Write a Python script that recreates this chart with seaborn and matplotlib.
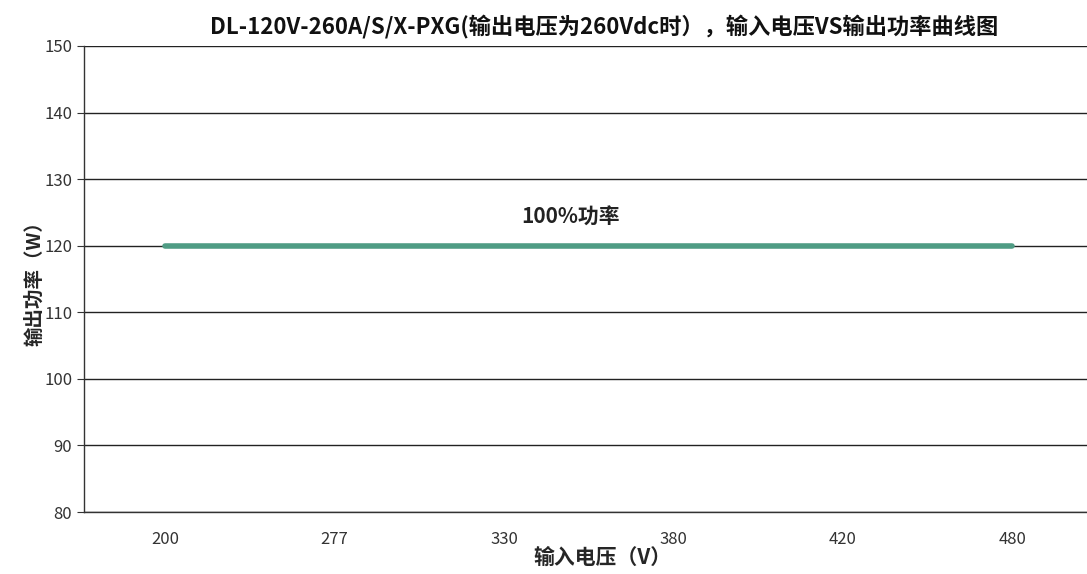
import pandas as pd
import matplotlib.pyplot as plt
import seaborn as sns

# Chart data
input_voltage = ['200', '277', '330', '380', '420', '480']
output_power = [120, 120, 120, 120, 120, 120]
y_ticks = [80, 90, 100, 110, 120, 130, 140, 150]

df = pd.DataFrame({'Vin': input_voltage, 'Pout': output_power})

sns.set_style('white')
plt.rcParams['font.family'] = ['Noto Sans CJK SC', 'DejaVu Sans']

fig = plt.figure(figsize=(10.87, 5.74), dpi=100)
ax = fig.add_axes([0.0773, 0.108, 0.9227, 0.812])

# Line through categorical positions
sns.lineplot(x='Vin', y='Pout', data=df, ax=ax, color='#4f9c84', linewidth=4, sort=False)

ax.set_ylim(80, 150)
ax.set_yticks(y_ticks)
ax.set_xlim(-0.478, 5.44)
ax.yaxis.grid(True, color='#222222', linewidth=1)
ax.xaxis.grid(False)
ax.set_axisbelow(True)

for s in ['top', 'right']:
    ax.spines[s].set_visible(False)
for s in ['left', 'bottom']:
    ax.spines[s].set_color('#333333')
    ax.spines[s].set_linewidth(1)

ax.tick_params(axis='y', left=True, length=5, color='#333333', labelsize=12, labelcolor='#333333')
ax.tick_params(axis='x', bottom=False, labelsize=12, labelcolor='#333333', pad=10)

ax.text(2.39, 124.2, '100%功率', fontsize=15, fontweight='bold', ha='center', va='center', color='#222222')

ax.set_xlabel('输入电压（V）', fontsize=15, fontweight='bold')
ax.xaxis.set_label_coords(0.517, -0.075)
ax.set_ylabel('输出功率（W）', fontsize=14, fontweight='bold', labelpad=0)
fig.text(0.556, 0.952, 'DL-120V-260A/S/X-PXG(输出电压为260Vdc时），输入电压VS输出功率曲线图',
         ha='center', va='center', fontsize=16, fontweight='bold', color='#111111')

plt.savefig('out.png', dpi=100)
